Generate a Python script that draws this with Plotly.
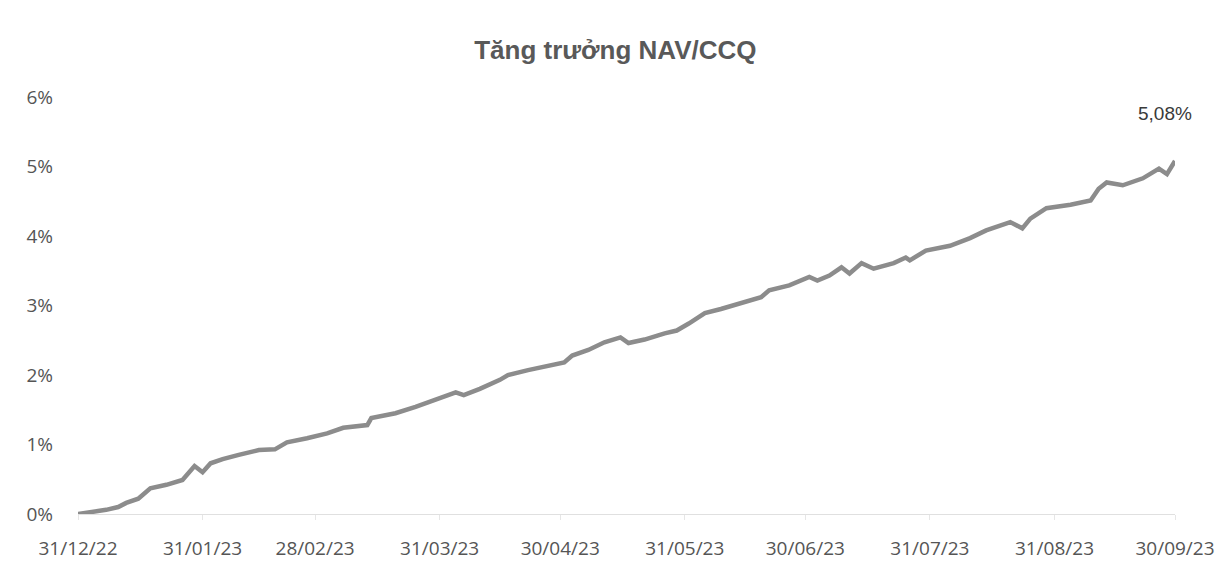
import plotly.graph_objects as go

dates = [
    "2022-12-31", "2023-01-04", "2023-01-07", "2023-01-10", "2023-01-12", "2023-01-15",
    "2023-01-18", "2023-01-22", "2023-01-26", "2023-01-29", "2023-01-31", "2023-02-02",
    "2023-02-05", "2023-02-09", "2023-02-14", "2023-02-18", "2023-02-21", "2023-02-26",
    "2023-03-03", "2023-03-07", "2023-03-11", "2023-03-13", "2023-03-14", "2023-03-20",
    "2023-03-25", "2023-03-30", "2023-04-04", "2023-04-06", "2023-04-10", "2023-04-15",
    "2023-04-17", "2023-04-22", "2023-04-27", "2023-05-01", "2023-05-03", "2023-05-07",
    "2023-05-11", "2023-05-15", "2023-05-17", "2023-05-21", "2023-05-26", "2023-05-29",
    "2023-06-01", "2023-06-05", "2023-06-09", "2023-06-14", "2023-06-19", "2023-06-21",
    "2023-06-26", "2023-07-01", "2023-07-03", "2023-07-06", "2023-07-09", "2023-07-11",
    "2023-07-14", "2023-07-17", "2023-07-22", "2023-07-25", "2023-07-26", "2023-07-30",
    "2023-08-05", "2023-08-10", "2023-08-14", "2023-08-20", "2023-08-23", "2023-08-25",
    "2023-08-29", "2023-09-04", "2023-09-09", "2023-09-11", "2023-09-13", "2023-09-17",
    "2023-09-22", "2023-09-26", "2023-09-28", "2023-09-30",
]
nav_growth = [
    0.00, 0.03, 0.06, 0.10, 0.16, 0.22,
    0.37, 0.42, 0.49, 0.69, 0.60, 0.73,
    0.79, 0.85, 0.92, 0.93, 1.03, 1.09,
    1.16, 1.24, 1.26, 1.28, 1.38, 1.45,
    1.54, 1.64, 1.75, 1.71, 1.80, 1.93,
    2.00, 2.07, 2.13, 2.18, 2.28, 2.36,
    2.47, 2.54, 2.46, 2.51, 2.60, 2.64,
    2.74, 2.89, 2.95, 3.03, 3.12, 3.22,
    3.29, 3.41, 3.36, 3.43, 3.55, 3.46,
    3.61, 3.53, 3.61, 3.69, 3.65, 3.79,
    3.86, 3.97, 4.08, 4.20, 4.11, 4.25,
    4.40, 4.45, 4.51, 4.68, 4.77, 4.73,
    4.83, 4.97, 4.89, 5.08,
]
tick_dates = ["2022-12-31", "2023-01-31", "2023-02-28", "2023-03-31", "2023-04-30",
              "2023-05-31", "2023-06-30", "2023-07-31", "2023-08-31", "2023-09-30"]
tick_labels = ["31/12/22", "31/01/23", "28/02/23", "31/03/23", "30/04/23",
               "31/05/23", "30/06/23", "31/07/23", "31/08/23", "30/09/23"]
y_ticks = [0, 1, 2, 3, 4, 5, 6]
y_tick_labels = ["0%", "1%", "2%", "3%", "4%", "5%", "6%"]
title_text = "Tăng trưởng NAV/CCQ"
end_label = "5,08%"

fig = go.Figure()
fig.add_trace(go.Scatter(
    x=dates, y=nav_growth, mode="lines",
    line=dict(color="#8c8c8c", width=4.5),
    hoverinfo="skip", showlegend=False,
))

fig.add_annotation(
    x=dates[-1], y=nav_growth[-1], xref="x", yref="y",
    text=end_label, showarrow=False, xshift=-10, yshift=47,
    font=dict(family="Liberation Sans, Arial, sans-serif", size=19, color="#3a3a3a"),
)

fig.update_layout(
    width=1221, height=571,
    paper_bgcolor="white", plot_bgcolor="white",
    margin=dict(l=78, r=46, t=97, b=57, autoexpand=False),
    title=dict(
        text=title_text, x=0.504, xref="container", xanchor="center",
        y=1 - 50 / 571, yref="container", yanchor="middle",
        font=dict(family="Liberation Sans, Arial, sans-serif", size=26, color="#595959", weight="bold"),
    ),
    xaxis=dict(
        type="date", range=["2022-12-31", "2023-09-30"], automargin=False,
        tickmode="array", tickvals=tick_dates, ticktext=tick_labels,
        showgrid=False, zeroline=False,
        showline=True, linecolor="#e0e0e0", linewidth=1,
        ticks="outside", ticklen=5, tickcolor="#e6e6e6",
        ticklabelstandoff=12,
        tickfont=dict(family="Open Sans, Calibri, sans-serif", size=19, color="#555555"),
    ),
    yaxis=dict(
        range=[0, 6], automargin=False,
        tickmode="array", tickvals=y_ticks, ticktext=y_tick_labels,
        showgrid=False, zeroline=False, showline=False,
        ticklabelstandoff=24,
        tickfont=dict(family="Open Sans, Calibri, sans-serif", size=19, color="#555555"),
    ),
)

fig.write_html(
    "out.html",
    config={"displayModeBar": False, "staticPlot": True},
    post_script="document.body.style.margin='0';document.body.style.overflow='hidden';",
)
